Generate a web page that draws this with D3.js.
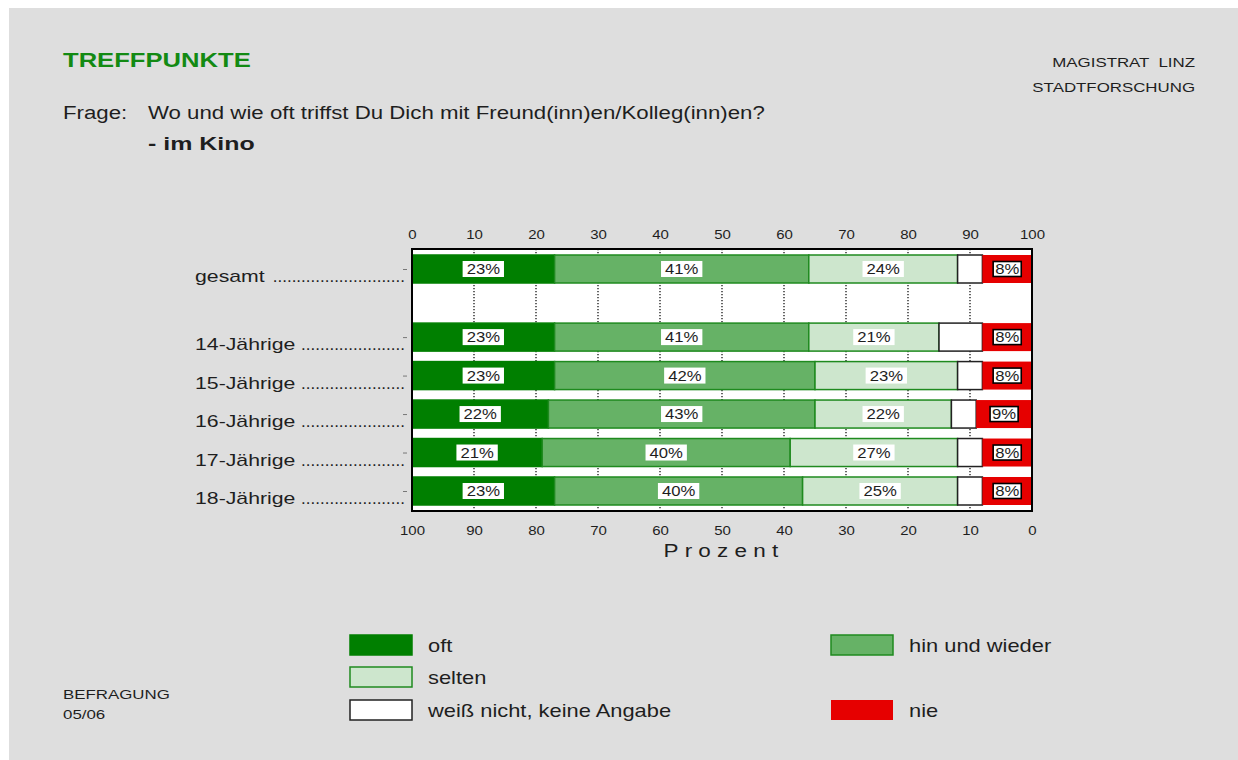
<!DOCTYPE html>
<html>
<head>
<meta charset="utf-8">
<script src="https://cdn.jsdelivr.net/npm/d3@7"></script>
<style>
  html, body { margin: 0; padding: 0; background: #ffffff; }
  svg { display: block; font-family: "Liberation Sans", Arial, sans-serif; }
</style>
</head>
<body>
<svg id="chart" width="1238" height="760"></svg>
<script>
// ---------- data ----------
const categories = ["gesamt", "14-Jährige", "15-Jährige", "16-Jährige", "17-Jährige", "18-Jährige"];
const oft      = [23, 23, 23, 22, 21, 23];
const hin      = [41, 41, 42, 43, 40, 40];
const selten   = [24, 21, 23, 22, 27, 25];
const weiss    = [4, 7, 4, 4, 4, 4];
const nie      = [8, 8, 8, 9, 8, 8];
const seriesKeys   = ["oft", "hin", "selten", "weiss", "nie"];
const seriesLabels = ["oft", "hin und wieder", "selten", "weiß nicht, keine Angabe", "nie"];
const topTicks    = [0, 10, 20, 30, 40, 50, 60, 70, 80, 90, 100];
const bottomTicks = [100, 90, 80, 70, 60, 50, 40, 30, 20, 10, 0];

// ---------- styling ----------
const SX = 1.25; // horizontal stretch of glyphs seen in the reference
const colors = { oft: "#007f00", hin: "#66b266", selten: "#cde6cd", weiss: "#ffffff", nie: "#e60000" };
const strokes = { oft: "#007f00", hin: "#1f8a1f", selten: "#1f8a1f", weiss: "#222222", nie: "none" };
const textCol = "#1e1e1e";

const rows = categories.map((c, i) => ({ cat: c, oft: oft[i], hin: hin[i], selten: selten[i], weiss: weiss[i], nie: nie[i], idx: i }));

const svg = d3.select("#chart");

// background panel
svg.append("rect").attr("x", 9).attr("y", 8).attr("width", 1238 - 9).attr("height", 760 - 8).attr("fill", "#dedede");

function addText(parent, x, y, str, o = {}) {
  const t = parent.append("text")
    .attr("transform", `translate(${x},${y}) scale(${o.sx || SX},1)`)
    .attr("text-anchor", o.anchor || "start")
    .attr("font-size", o.size || 17)
    .attr("font-weight", o.weight || "normal")
    .attr("fill", o.fill || textCol)
    .text(str);
  if (o.ls) t.attr("letter-spacing", o.ls);
  return t;
}

// ---------- header ----------
addText(svg, 63, 67, "TREFFPUNKTE", { size: 20, weight: "bold", fill: "#138a13", sx: 1.28 });
addText(svg, 1195, 67, "MAGISTRAT  LINZ", { size: 13.5, anchor: "end" }).style("white-space", "pre");
addText(svg, 1195, 92, "STADTFORSCHUNG", { size: 13.5, anchor: "end" });
addText(svg, 63, 119, "Frage:", { size: 17.8 });
addText(svg, 148, 119, "Wo und wie oft triffst Du Dich mit Freund(inn)en/Kolleg(inn)en?", { size: 17.8 });
addText(svg, 148, 150, "- im Kino", { size: 18.5, weight: "bold", sx: 1.35 });
addText(svg, 63, 699, "BEFRAGUNG", { size: 13.5 });
addText(svg, 63, 719, "05/06", { size: 13.5 });

// ---------- scales ----------
const plot = { left: 412, right: 1032, top: 249, bottom: 511 };
const x = d3.scaleLinear().domain([0, 100]).range([plot.left, plot.right]);
const xRev = d3.scaleLinear().domain([100, 0]).range([plot.left, plot.right]);
const slot = i => (i === 0 ? 0 : i + 0.77);
const y = d3.scaleLinear().domain([0, 5.77]).range([269, 491]);
const barH = 28;

// plot background
svg.append("rect").attr("x", plot.left).attr("y", plot.top)
  .attr("width", plot.right - plot.left).attr("height", plot.bottom - plot.top).attr("fill", "#ffffff");

// dotted grid
svg.append("g").selectAll("line").data(topTicks.filter(d => d > 0 && d < 100)).join("line")
  .attr("x1", d => x(d)).attr("x2", d => x(d))
  .attr("y1", plot.top).attr("y2", plot.bottom)
  .attr("stroke", "#000").attr("stroke-width", 1.2).attr("stroke-dasharray", "1.3,1.7");

// ---------- bars ----------
const stack = d3.stack().keys(seriesKeys);
const stacked = stack(rows);

const layers = svg.append("g").selectAll("g").data(stacked).join("g")
  .attr("fill", d => colors[d.key])
  .attr("stroke", d => strokes[d.key])
  .attr("stroke-width", 1.5);

layers.selectAll("rect").data(d => d).join("rect")
  .attr("x", d => x(d[0]))
  .attr("width", d => x(d[1]) - x(d[0]))
  .attr("y", d => y(slot(d.data.idx)) - barH / 2)
  .attr("height", barH);

// value labels
const labelKeys = ["oft", "hin", "selten", "nie"];
stacked.filter(s => labelKeys.includes(s.key)).forEach(s => {
  s.forEach(d => {
    const cx = (x(d[0]) + x(d[1])) / 2;
    const cy = y(slot(d.data.idx));
    const g = svg.append("g");
    const r = g.append("rect").attr("fill", "#ffffff")
      .attr("stroke", s.key === "nie" ? "#000" : "none").attr("stroke-width", 1.6);
    const t = addText(g, cx, cy + 5.3, d.data[s.key] + "%", { size: 14.5, anchor: "middle", sx: 1.15 });
    const w = t.node().getComputedTextLength() * 1.15 + (s.key === "nie" ? 4 : 8);
    const h = s.key === "nie" ? 15 : 16;
    r.attr("x", cx - w / 2).attr("y", cy - h / 2).attr("width", w).attr("height", h);
  });
});

// ---------- axes ----------
const topAxis = d3.axisTop(x).tickValues(topTicks).tickSize(0).tickPadding(10);
const gTop = svg.append("g").attr("transform", `translate(0,${plot.top})`).call(topAxis);
gTop.select(".domain").remove();
gTop.selectAll("text").attr("font-size", 12.5).attr("fill", textCol)
  .attr("font-family", "Liberation Sans, Arial, sans-serif").attr("transform", "scale(1.2,1)")
  .attr("x", function () { return 0; });
gTop.selectAll(".tick").each(function (d) {
  d3.select(this).select("text").attr("transform", "scale(1.2,1)");
});

const botAxis = d3.axisBottom(xRev).tickValues(bottomTicks).tickSize(0).tickPadding(15);
const gBot = svg.append("g").attr("transform", `translate(0,${plot.bottom})`).call(botAxis);
gBot.select(".domain").remove();
gBot.selectAll("text").attr("font-size", 12.5).attr("fill", textCol)
  .attr("font-family", "Liberation Sans, Arial, sans-serif").attr("transform", "scale(1.2,1)");

// tiny left ticks
const leftAxis = d3.axisLeft(d3.scaleLinear().domain(y.domain()).range(y.range()))
  .tickValues(categories.map((c, i) => slot(i))).tickSize(4).tickFormat("");
const gLeft = svg.append("g").attr("transform", `translate(${plot.left - 5},0)`).call(leftAxis);
gLeft.select(".domain").remove();
gLeft.selectAll("line").attr("stroke", "#777");

// x title
addText(svg, (plot.left + plot.right) / 2 + 2, 557, "Prozent", { size: 18, anchor: "middle", ls: 5 });

// frame
svg.append("rect").attr("x", plot.left).attr("y", plot.top)
  .attr("width", plot.right - plot.left).attr("height", plot.bottom - plot.top)
  .attr("fill", "none").attr("stroke", "#000").attr("stroke-width", 2);

// ---------- category labels with dot leaders ----------
categories.forEach((c, i) => {
  const by = y(slot(i)) + 13;
  const t = addText(svg, 195, by, c, { size: 17 });
  const end = 195 + t.node().getComputedTextLength() * SX + 5;
  const dotW = 17 * 0.278;
  const n = Math.max(0, Math.floor((405 - end) / dotW));
  svg.append("text").attr("x", 405).attr("y", by).attr("text-anchor", "end")
    .attr("font-size", 17).attr("fill", textCol).text(".".repeat(n));
});

// ---------- legend ----------
const legendItems = [
  { key: "oft", label: seriesLabels[0], x: 350, y: 635 },
  { key: "hin", label: seriesLabels[1], x: 831, y: 635 },
  { key: "selten", label: seriesLabels[2], x: 350, y: 667 },
  { key: "weiss", label: seriesLabels[3], x: 350, y: 700 },
  { key: "nie", label: seriesLabels[4], x: 831, y: 700 }
];
const lg = svg.append("g");
legendItems.forEach(it => {
  lg.append("rect").attr("x", it.x).attr("y", it.y).attr("width", 62).attr("height", 20)
    .attr("fill", colors[it.key])
    .attr("stroke", it.key === "nie" ? "none" : (it.key === "oft" ? colors.oft : strokes[it.key]))
    .attr("stroke-width", 1.5);
  addText(lg, it.x + 78, it.y + 17, it.label, { size: 17.5 });
});
</script>
</body>
</html>
